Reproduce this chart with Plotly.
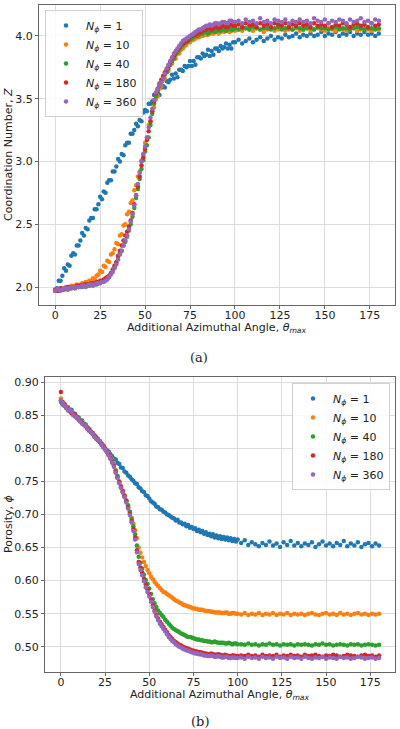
import plotly.graph_objects as go

# angle grid: every degree up to 100, every second degree afterwards
theta = [0, 1, 2, 3, 4, 5, 6, 7, 8, 9,
         10, 11, 12, 13, 14, 15, 16, 17, 18, 19,
         20, 21, 22, 23, 24, 25, 26, 27, 28, 29,
         30, 31, 32, 33, 34, 35, 36, 37, 38, 39,
         40, 41, 42, 43, 44, 45, 46, 47, 48, 49,
         50, 51, 52, 53, 54, 55, 56, 57, 58, 59,
         60, 61, 62, 63, 64, 65, 66, 67, 68, 69,
         70, 71, 72, 73, 74, 75, 76, 77, 78, 79,
         80, 81, 82, 83, 84, 85, 86, 87, 88, 89,
         90, 91, 92, 93, 94, 95, 96, 97, 98, 99,
         100,
         102, 104, 106, 108, 110, 112, 114, 116, 118, 120,
         122, 124, 126, 128, 130, 132, 134, 136, 138, 140,
         142, 144, 146, 148, 150, 152, 154, 156, 158, 160,
         162, 164, 166, 168, 170, 172, 174, 176, 178, 180]

labels = ["1", "10", "40", "180", "360"]
colors = ["#1f77b4", "#ff7f0e", "#2ca02c", "#d62728", "#9467bd"]

# (a) coordination number Z
z_1 = [1.97, 1.99, 2.05, 2.05, 2.09, 2.15, 2.13, 2.18, 2.17, 2.25,
       2.27, 2.26, 2.33, 2.33, 2.37, 2.43, 2.41, 2.47, 2.46, 2.53,
       2.55, 2.55, 2.62, 2.62, 2.66, 2.72, 2.70, 2.76, 2.75, 2.83,
       2.85, 2.85, 2.92, 2.92, 2.96, 3.02, 3.00, 3.06, 3.05, 3.13,
       3.15, 3.15, 3.22, 3.22, 3.25, 3.30, 3.28, 3.33, 3.32, 3.39,
       3.41, 3.40, 3.46, 3.46, 3.48, 3.53, 3.50, 3.55, 3.53, 3.59,
       3.60, 3.59, 3.64, 3.63, 3.65, 3.69, 3.66, 3.70, 3.67, 3.73,
       3.73, 3.72, 3.76, 3.75, 3.76, 3.80, 3.76, 3.80, 3.77, 3.83,
       3.83, 3.82, 3.86, 3.84, 3.85, 3.89, 3.84, 3.88, 3.85, 3.90,
       3.90, 3.88, 3.92, 3.90, 3.91, 3.94, 3.90, 3.93, 3.90, 3.95,
       3.95,
       3.97, 3.94, 3.96, 3.98, 3.95, 3.97, 3.99, 3.96, 3.98, 4.00,
       3.97, 3.99, 3.98, 4.01, 3.99, 4.00, 4.02, 3.99, 4.01, 4.00,
       4.02, 4.00, 4.01, 4.03, 4.00, 4.02, 4.01, 4.03, 4.00, 4.02,
       4.01, 4.03, 4.00, 4.02, 4.01, 4.03, 4.01, 4.02, 4.00, 4.02]
z_10 = [1.97, 1.98, 1.98, 1.99, 1.98, 1.99, 2.00, 1.99, 2.00, 2.01,
        2.00, 2.01, 2.02, 2.01, 2.02, 2.03, 2.02, 2.04, 2.04, 2.05,
        2.05, 2.07, 2.06, 2.09, 2.10, 2.13, 2.12, 2.17, 2.16, 2.21,
        2.20, 2.26, 2.27, 2.30, 2.35, 2.34, 2.41, 2.42, 2.49, 2.50,
        2.58, 2.60, 2.67, 2.69, 2.77, 2.81, 2.88, 2.92, 3.01, 3.05,
        3.15, 3.19, 3.29, 3.32, 3.40, 3.43, 3.50, 3.52, 3.58, 3.60,
        3.65, 3.66, 3.71, 3.72, 3.77, 3.78, 3.82, 3.82, 3.86, 3.86,
        3.89, 3.90, 3.92, 3.93, 3.95, 3.95, 3.97, 3.97, 3.98, 3.99,
        3.99, 4.00, 4.00, 4.01, 4.01, 4.01, 4.02, 4.02, 4.02, 4.03,
        4.03, 4.02, 4.03, 4.04, 4.03, 4.04, 4.04, 4.03, 4.04, 4.05,
        4.04,
        4.05, 4.04, 4.06, 4.05, 4.04, 4.06, 4.05, 4.03, 4.05, 4.06,
        4.04, 4.05, 4.06, 4.04, 4.05, 4.05, 4.06, 4.04, 4.05, 4.06,
        4.04, 4.05, 4.06, 4.05, 4.04, 4.06, 4.05, 4.04, 4.06, 4.05,
        4.04, 4.05, 4.06, 4.04, 4.05, 4.06, 4.05, 4.04, 4.06, 4.05]
z_40 = [1.97, 1.97, 1.98, 1.98, 1.98, 1.99, 1.99, 1.98, 1.99, 2.00,
        2.00, 1.99, 2.00, 2.01, 2.01, 2.00, 2.01, 2.02, 2.02, 2.01,
        2.02, 2.03, 2.03, 2.02, 2.03, 2.04, 2.04, 2.05, 2.06, 2.07,
        2.08, 2.11, 2.13, 2.16, 2.19, 2.24, 2.27, 2.29, 2.33, 2.36,
        2.40, 2.45, 2.50, 2.56, 2.63, 2.71, 2.78, 2.86, 2.94, 3.01,
        3.08, 3.13, 3.19, 3.29, 3.38, 3.46, 3.52, 3.57, 3.60, 3.63,
        3.66, 3.69, 3.71, 3.74, 3.77, 3.80, 3.82, 3.85, 3.87, 3.89,
        3.91, 3.93, 3.94, 3.95, 3.96, 3.97, 3.98, 3.99, 4.00, 4.00,
        4.01, 4.02, 4.02, 4.03, 4.03, 4.02, 4.03, 4.04, 4.04, 4.03,
        4.04, 4.05, 4.04, 4.05, 4.05, 4.04, 4.05, 4.06, 4.05, 4.05,
        4.06,
        4.05, 4.06, 4.06, 4.05, 4.07, 4.06, 4.05, 4.06, 4.06, 4.05,
        4.06, 4.07, 4.05, 4.06, 4.06, 4.05, 4.07, 4.06, 4.05, 4.06,
        4.06, 4.05, 4.07, 4.06, 4.06, 4.05, 4.06, 4.07, 4.05, 4.06,
        4.06, 4.05, 4.06, 4.07, 4.06, 4.05, 4.06, 4.06, 4.05, 4.06]
z_180 = [1.98, 1.97, 1.97, 1.99, 1.98, 1.98, 1.99, 2.00, 1.99, 1.99,
         2.00, 2.00, 2.01, 2.00, 2.01, 2.01, 2.02, 2.01, 2.02, 2.02,
         2.03, 2.02, 2.03, 2.04, 2.04, 2.05, 2.05, 2.06, 2.07, 2.08,
         2.09, 2.11, 2.14, 2.17, 2.20, 2.25, 2.29, 2.33, 2.37, 2.41,
         2.44, 2.48, 2.53, 2.59, 2.66, 2.73, 2.80, 2.88, 2.97, 3.03,
         3.10, 3.17, 3.24, 3.32, 3.40, 3.48, 3.54, 3.58, 3.62, 3.65,
         3.68, 3.71, 3.73, 3.76, 3.79, 3.82, 3.84, 3.87, 3.89, 3.91,
         3.93, 3.94, 3.95, 3.96, 3.97, 3.99, 4.00, 4.01, 4.01, 4.02,
         4.03, 4.03, 4.04, 4.05, 4.05, 4.06, 4.06, 4.05, 4.06, 4.07,
         4.07, 4.06, 4.07, 4.08, 4.08, 4.07, 4.07, 4.09, 4.09, 4.08,
         4.08,
         4.09, 4.07, 4.10, 4.08, 4.09, 4.07, 4.10, 4.08, 4.09, 4.07,
         4.10, 4.09, 4.08, 4.10, 4.07, 4.09, 4.08, 4.10, 4.08, 4.09,
         4.07, 4.10, 4.08, 4.09, 4.08, 4.10, 4.07, 4.09, 4.08, 4.10,
         4.09, 4.07, 4.09, 4.10, 4.08, 4.09, 4.07, 4.10, 4.08, 4.09]
z_360 = [1.97, 1.98, 1.98, 1.97, 1.98, 1.99, 1.99, 1.98, 1.99, 1.99,
         2.00, 1.99, 2.00, 2.00, 2.00, 2.01, 2.01, 2.00, 2.01, 2.02,
         2.02, 2.01, 2.02, 2.03, 2.03, 2.03, 2.04, 2.04, 2.05, 2.06,
         2.08, 2.10, 2.12, 2.15, 2.18, 2.22, 2.26, 2.29, 2.33, 2.37,
         2.41, 2.46, 2.52, 2.58, 2.65, 2.73, 2.82, 2.91, 3.00, 3.06,
         3.12, 3.19, 3.27, 3.35, 3.42, 3.49, 3.55, 3.58, 3.61, 3.63,
         3.66, 3.70, 3.74, 3.77, 3.80, 3.83, 3.86, 3.88, 3.90, 3.92,
         3.94, 3.96, 3.97, 3.98, 3.99, 4.00, 4.01, 4.02, 4.03, 4.04,
         4.05, 4.05, 4.06, 4.07, 4.08, 4.08, 4.09, 4.08, 4.09, 4.10,
         4.10, 4.09, 4.10, 4.11, 4.11, 4.10, 4.10, 4.12, 4.12, 4.11,
         4.11,
         4.12, 4.10, 4.13, 4.11, 4.12, 4.10, 4.14, 4.11, 4.12, 4.10,
         4.13, 4.12, 4.11, 4.13, 4.10, 4.12, 4.11, 4.13, 4.11, 4.12,
         4.10, 4.14, 4.12, 4.11, 4.13, 4.10, 4.12, 4.11, 4.13, 4.12,
         4.10, 4.13, 4.11, 4.12, 4.14, 4.11, 4.12, 4.10, 4.13, 4.12]

# (b) porosity phi
phi_1 = [0.872, 0.866, 0.867, 0.861, 0.862, 0.856, 0.858, 0.851, 0.852, 0.847,
         0.846, 0.841, 0.842, 0.836, 0.835, 0.831, 0.829, 0.825, 0.823, 0.819,
         0.816, 0.814, 0.810, 0.807, 0.804, 0.800, 0.797, 0.795, 0.791, 0.788,
         0.784, 0.783, 0.778, 0.776, 0.771, 0.770, 0.765, 0.763, 0.759, 0.757,
         0.753, 0.751, 0.747, 0.746, 0.741, 0.739, 0.735, 0.734, 0.729, 0.728,
         0.724, 0.720, 0.718, 0.716, 0.712, 0.711, 0.708, 0.707, 0.704, 0.703,
         0.700, 0.699, 0.697, 0.695, 0.694, 0.691, 0.692, 0.688, 0.688, 0.685,
         0.686, 0.682, 0.684, 0.680, 0.681, 0.678, 0.679, 0.675, 0.677, 0.673,
         0.675, 0.671, 0.673, 0.669, 0.671, 0.667, 0.670, 0.665, 0.668, 0.664,
         0.667, 0.663, 0.666, 0.662, 0.665, 0.661, 0.664, 0.660, 0.663, 0.659,
         0.662,
         0.657, 0.661, 0.654, 0.658, 0.655, 0.652, 0.657, 0.654, 0.659, 0.653,
         0.656, 0.651, 0.658, 0.654, 0.660, 0.653, 0.657, 0.652, 0.656, 0.654,
         0.658, 0.651, 0.655, 0.659, 0.653, 0.656, 0.652, 0.657, 0.654, 0.660,
         0.652, 0.656, 0.653, 0.658, 0.651, 0.655, 0.657, 0.652, 0.656, 0.653]
phi_10 = [0.875, 0.868, 0.866, 0.863, 0.861, 0.857, 0.855, 0.853, 0.850, 0.848,
          0.845, 0.842, 0.840, 0.837, 0.834, 0.832, 0.829, 0.825, 0.822, 0.820,
          0.817, 0.813, 0.810, 0.807, 0.804, 0.800, 0.796, 0.792, 0.787, 0.783,
          0.776, 0.767, 0.757, 0.750, 0.743, 0.736, 0.729, 0.721, 0.712, 0.704,
          0.695, 0.686, 0.676, 0.664, 0.650, 0.642, 0.635, 0.628, 0.622, 0.616,
          0.611, 0.606, 0.602, 0.598, 0.595, 0.592, 0.589, 0.586, 0.583, 0.582,
          0.580, 0.578, 0.576, 0.574, 0.572, 0.570, 0.569, 0.567, 0.566, 0.564,
          0.563, 0.562, 0.561, 0.560, 0.559, 0.558, 0.558, 0.557, 0.556, 0.556,
          0.556, 0.555, 0.554, 0.554, 0.554, 0.553, 0.553, 0.552, 0.552, 0.552,
          0.552, 0.551, 0.551, 0.552, 0.552, 0.550, 0.550, 0.551, 0.551, 0.550,
          0.550,
          0.549, 0.551, 0.548, 0.550, 0.549, 0.551, 0.548, 0.550, 0.549, 0.551,
          0.548, 0.550, 0.549, 0.551, 0.548, 0.550, 0.549, 0.550, 0.548, 0.550,
          0.551, 0.549, 0.548, 0.550, 0.551, 0.549, 0.550, 0.548, 0.551, 0.549,
          0.550, 0.548, 0.550, 0.551, 0.549, 0.550, 0.548, 0.550, 0.549, 0.550]
phi_40 = [0.870, 0.867, 0.864, 0.861, 0.858, 0.857, 0.856, 0.852, 0.849, 0.848,
          0.846, 0.842, 0.838, 0.837, 0.836, 0.831, 0.827, 0.825, 0.823, 0.819,
          0.815, 0.813, 0.811, 0.806, 0.802, 0.799, 0.795, 0.791, 0.786, 0.781,
          0.774, 0.766, 0.758, 0.749, 0.741, 0.734, 0.727, 0.721, 0.714, 0.704,
          0.693, 0.682, 0.670, 0.653, 0.636, 0.627, 0.618, 0.609, 0.601, 0.595,
          0.588, 0.580, 0.572, 0.566, 0.560, 0.555, 0.551, 0.548, 0.545, 0.541,
          0.538, 0.535, 0.532, 0.529, 0.527, 0.525, 0.524, 0.522, 0.520, 0.519,
          0.518, 0.516, 0.515, 0.515, 0.514, 0.513, 0.512, 0.511, 0.511, 0.510,
          0.510, 0.509, 0.509, 0.508, 0.508, 0.507, 0.507, 0.508, 0.507, 0.506,
          0.506, 0.506, 0.506, 0.505, 0.505, 0.506, 0.505, 0.504, 0.505, 0.505,
          0.504,
          0.504, 0.503, 0.505, 0.503, 0.504, 0.502, 0.504, 0.503, 0.505, 0.503,
          0.504, 0.502, 0.504, 0.503, 0.504, 0.502, 0.504, 0.503, 0.504, 0.503,
          0.502, 0.504, 0.503, 0.505, 0.503, 0.504, 0.502, 0.503, 0.504, 0.503,
          0.502, 0.504, 0.503, 0.504, 0.502, 0.503, 0.504, 0.503, 0.502, 0.503]
phi_180 = [0.885, 0.870, 0.866, 0.862, 0.860, 0.856, 0.853, 0.852, 0.850, 0.846,
           0.843, 0.841, 0.839, 0.836, 0.833, 0.830, 0.828, 0.824, 0.821, 0.818,
           0.816, 0.812, 0.809, 0.806, 0.803, 0.799, 0.795, 0.790, 0.785, 0.779,
           0.773, 0.764, 0.756, 0.749, 0.742, 0.735, 0.728, 0.720, 0.711, 0.701,
           0.690, 0.678, 0.665, 0.646, 0.628, 0.620, 0.612, 0.603, 0.594, 0.587,
           0.580, 0.571, 0.563, 0.555, 0.548, 0.543, 0.538, 0.534, 0.530, 0.526,
           0.522, 0.518, 0.515, 0.512, 0.509, 0.507, 0.505, 0.503, 0.502, 0.500,
           0.499, 0.498, 0.497, 0.496, 0.495, 0.494, 0.493, 0.493, 0.492, 0.492,
           0.491, 0.490, 0.490, 0.489, 0.489, 0.490, 0.489, 0.488, 0.488, 0.489,
           0.488, 0.487, 0.487, 0.488, 0.487, 0.486, 0.486, 0.487, 0.487, 0.486,
           0.486,
           0.487, 0.486, 0.488, 0.486, 0.487, 0.485, 0.488, 0.486, 0.487, 0.486,
           0.488, 0.485, 0.487, 0.486, 0.488, 0.486, 0.487, 0.485, 0.488, 0.486,
           0.487, 0.488, 0.486, 0.485, 0.487, 0.486, 0.488, 0.487, 0.485, 0.486,
           0.488, 0.487, 0.486, 0.485, 0.487, 0.488, 0.486, 0.487, 0.485, 0.487]
phi_360 = [0.872, 0.868, 0.864, 0.861, 0.857, 0.858, 0.855, 0.850, 0.848, 0.846,
           0.844, 0.840, 0.837, 0.836, 0.834, 0.829, 0.826, 0.824, 0.822, 0.817,
           0.814, 0.812, 0.810, 0.805, 0.801, 0.798, 0.794, 0.789, 0.784, 0.778,
           0.772, 0.763, 0.755, 0.747, 0.740, 0.733, 0.726, 0.718, 0.709, 0.699,
           0.688, 0.675, 0.662, 0.643, 0.625, 0.616, 0.608, 0.599, 0.590, 0.583,
           0.576, 0.568, 0.560, 0.553, 0.546, 0.540, 0.535, 0.531, 0.527, 0.523,
           0.519, 0.515, 0.512, 0.509, 0.507, 0.504, 0.502, 0.500, 0.499, 0.497,
           0.496, 0.495, 0.494, 0.493, 0.492, 0.491, 0.490, 0.490, 0.489, 0.489,
           0.488, 0.487, 0.487, 0.486, 0.486, 0.487, 0.486, 0.485, 0.485, 0.486,
           0.485, 0.484, 0.484, 0.485, 0.485, 0.483, 0.483, 0.484, 0.484, 0.483,
           0.483,
           0.484, 0.482, 0.485, 0.483, 0.484, 0.482, 0.485, 0.483, 0.484, 0.482,
           0.485, 0.483, 0.484, 0.482, 0.485, 0.483, 0.484, 0.482, 0.485, 0.483,
           0.482, 0.484, 0.483, 0.485, 0.482, 0.484, 0.483, 0.482, 0.485, 0.483,
           0.484, 0.482, 0.483, 0.485, 0.484, 0.482, 0.483, 0.484, 0.482, 0.483]

z_series = [z_1, z_10, z_40, z_180, z_360]
phi_series = [phi_1, phi_10, phi_40, phi_180, phi_360]

FONT = "DejaVu Sans"
W, H = 400, 729

fig = go.Figure()

for lab, col, z in zip(labels, colors, z_series):
    fig.add_trace(go.Scatter(
        x=theta, y=z, mode="markers", name="<i>N<sub>ϕ</sub></i> = " + lab,
        marker=dict(color=col, size=4.5, line=dict(width=0)),
        xaxis="x", yaxis="y", legend="legend"))

for lab, col, p in zip(labels, colors, phi_series):
    fig.add_trace(go.Scatter(
        x=theta, y=p, mode="markers", name="<i>N<sub>ϕ</sub></i> = " + lab,
        marker=dict(color=col, size=4.5, line=dict(width=0)),
        xaxis="x2", yaxis="y2", legend="legend2"))

axis_style = dict(showline=True, linecolor="#666", linewidth=1, mirror=True,
                  showgrid=True, gridcolor="#dddddd", gridwidth=1, zeroline=False,
                  ticks="outside", ticklen=3, tickcolor="#666", automargin=False,
                  tickfont=dict(family=FONT, size=11, color="#222"))
text_font = dict(family=FONT, size=11, color="#222")
cap_font = dict(family="DejaVu Serif", size=13, color="#222")
xticks = [0, 25, 50, 75, 100, 125, 150, 175]

legend_style = dict(bgcolor="rgba(255,255,255,0.85)", bordercolor="#d0d0d0", borderwidth=1,
                    font=dict(family=FONT, size=11, color="#222"), itemwidth=30,
                    tracegroupgap=0)


def label(text, x, y, font, angle=0):
    # text placed by pixel position on the 400x729 page
    return dict(text=text, x=x / W, y=1 - y / H, xref="paper", yref="paper",
                xanchor="center", yanchor="middle", textangle=angle,
                showarrow=False, font=font)


xtitle = "Additional Azimuthal Angle, <i>θ<sub>max</sub></i>"

fig.update_layout(
    width=W, height=H,
    margin=dict(l=0, r=0, t=0, b=0),
    paper_bgcolor="white", plot_bgcolor="white",
    xaxis=dict(domain=[39 / W, 395 / W], anchor="y", range=[-9, 189], tickvals=xticks,
               ticklabelstandoff=-3, **axis_style),
    yaxis=dict(domain=[1 - 305 / H, 1 - 5 / H], anchor="x", range=[1.857, 4.246],
               tickvals=[2.0, 2.5, 3.0, 3.5, 4.0], tickformat=".1f", **axis_style),
    xaxis2=dict(domain=[45 / W, 395 / W], anchor="y2", range=[-9, 189], tickvals=xticks,
                ticklabelstandoff=-3, **axis_style),
    yaxis2=dict(domain=[1 - 672 / H, 1 - 377 / H], anchor="x2", range=[0.462, 0.9076],
                tickvals=[0.50, 0.55, 0.60, 0.65, 0.70, 0.75, 0.80, 0.85, 0.90],
                tickformat=".2f", **axis_style),
    legend=dict(x=45 / W, y=1 - 10 / H, xanchor="left", yanchor="top", **legend_style),
    legend2=dict(x=390 / W, y=1 - 383 / H, xanchor="right", yanchor="top", **legend_style),
    annotations=[
        label(xtitle, 217, 328, text_font),
        label("Coordination Number, <i>Z</i>", 9, 155, text_font, -90),
        label("(a)", 199, 357, cap_font),
        label(xtitle, 220, 695, text_font),
        label("Porosity, <i>ϕ</i>", 8, 524, text_font, -90),
        label("(b)", 200, 721, cap_font),
    ],
)

# the page body has a default 8px margin; drop it so the figure fills the window
fig.write_html("out.html", config={"displayModeBar": False},
               post_script="document.body.style.margin='0px';"
                           "document.body.style.overflow='hidden';")
